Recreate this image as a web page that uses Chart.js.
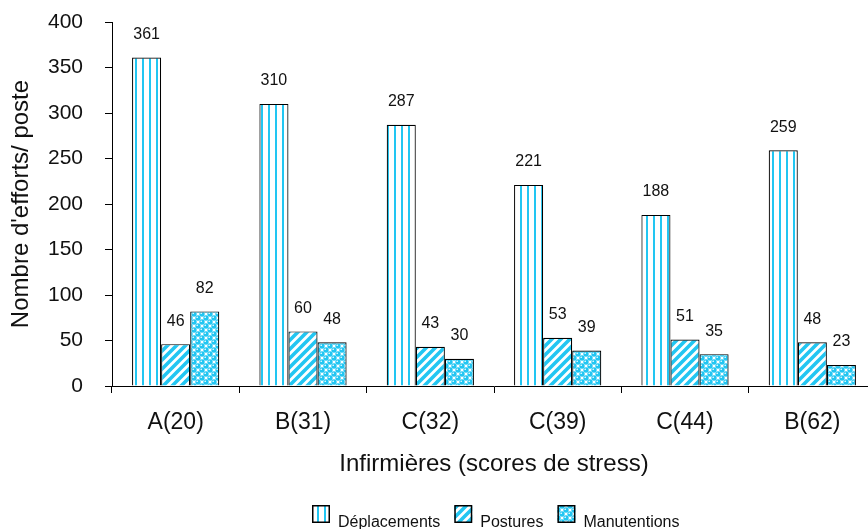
<!DOCTYPE html>
<html>
<head>
<meta charset="utf-8">
<script src="https://cdn.jsdelivr.net/npm/chart.js@4/dist/chart.umd.min.js"></script>
<style>
  html, body { margin: 0; padding: 0; background: #ffffff; overflow: hidden; }
  #wrap { width: 876px; height: 529px; }
</style>
</head>
<body>
<div id="wrap"><canvas id="chart" width="876" height="529"></canvas></div>
<script>
// Efforts per post for each nurse (stress score in brackets)
const categories = ['A(20)', 'B(31)', 'C(32)', 'C(39)', 'C(44)', 'B(62)'];
const seriesNames = ['Déplacements', 'Postures', 'Manutentions'];
const deplacements = [361, 310, 287, 221, 188, 259];
const postures = [46, 60, 43, 53, 51, 48];
const manutentions = [82, 48, 30, 39, 35, 23];
const yTicks = [0, 50, 100, 150, 200, 250, 300, 350, 400];

const CYAN = '#22c6f2';
const FONT = '"Liberation Sans", Arial, sans-serif';
const INK = '#111111';

function tile(w, h, paint) {
  const c = document.createElement('canvas');
  c.width = w; c.height = h;
  const g = c.getContext('2d');
  g.fillStyle = '#ffffff';
  g.fillRect(0, 0, w, h);
  paint(g, w, h);
  return document.getElementById('chart').getContext('2d').createPattern(c, 'repeat');
}

// vertical stripes
const stripes = tile(7, 4, (g) => {
  g.fillStyle = CYAN;
  g.fillRect(2, 0, 2, 4);
});

// diagonal hatching
const hatch = tile(9, 9, (g, w, h) => {
  g.strokeStyle = CYAN;
  g.lineWidth = 3.6;
  g.lineCap = 'square';
  for (let k = -1; k <= 1; k++) {
    g.beginPath();
    g.moveTo(k * w, h);
    g.lineTo(k * w + w, 0);
    g.stroke();
  }
});

// bubbles
const bubbles = tile(8, 8, (g) => {
  const spots = [[2, 2], [6, 6], [10, 2], [-2, 6], [2, 10], [6, -2], [10, 10], [-2, -2], [-2, 10], [10, -2]];
  g.fillStyle = CYAN;
  spots.forEach(([x, y]) => { g.beginPath(); g.arc(x, y, 2.7, 0, Math.PI * 2); g.fill(); });
  g.fillStyle = '#ffffff';
  spots.forEach(([x, y]) => { g.beginPath(); g.arc(x - 0.8, y - 0.8, 0.8, 0, Math.PI * 2); g.fill(); });
});

const fills = [stripes, hatch, bubbles];
const values = [deplacements, postures, manutentions];

// value printed above every bar
const valueLabels = {
  id: 'valueLabels',
  afterDatasetsDraw(chart) {
    const ctx = chart.ctx;
    ctx.save();
    ctx.font = '16px ' + FONT;
    ctx.fillStyle = INK;
    ctx.textAlign = 'center';
    ctx.textBaseline = 'middle';
    chart.data.datasets.forEach((ds, i) => {
      chart.getDatasetMeta(i).data.forEach((bar, j) => {
        ctx.fillText(String(ds.data[j]), bar.x, bar.y - 23);
      });
    });
    ctx.restore();
  }
};

// legend row under the axis title
const legendRow = {
  id: 'legendRow',
  afterDraw(chart) {
    const ctx = chart.ctx;
    ctx.save();
    ctx.font = '16px ' + FONT;
    ctx.textBaseline = 'alphabetic';
    let x = 312;
    const boxTop = 505, box = 18, baseline = 527;
    chart.data.datasets.forEach((ds) => {
      ctx.fillStyle = ds.backgroundColor;
      ctx.fillRect(x, boxTop, box, box);
      ctx.strokeStyle = '#000';
      ctx.lineWidth = 1.5;
      ctx.strokeRect(x + 0.75, boxTop + 0.75, box - 1.5, box - 1.5);
      ctx.fillStyle = INK;
      ctx.fillText(ds.label, x + box + 8, baseline);
      x += box + 8 + ctx.measureText(ds.label).width + 14;
    });
    ctx.restore();
  }
};

new Chart(document.getElementById('chart'), {
  type: 'bar',
  data: {
    labels: categories,
    datasets: seriesNames.map((name, i) => ({
      label: name,
      data: values[i],
      backgroundColor: fills[i],
      borderColor: '#000000',
      borderWidth: 1.2,
      categoryPercentage: 0.685,
      barPercentage: 1
    }))
  },
  options: {
    responsive: false,
    animation: false,
    devicePixelRatio: 1,
    layout: { padding: { top: 22, right: 0, bottom: 0, left: 0 } },
    plugins: {
      legend: { display: false },
      tooltip: { enabled: false }
    },
    scales: {
      x: {
        afterFit(scale) { scale.height = 143; },
        border: { display: true, color: '#000', width: 1 },
        grid: { display: true, drawOnChartArea: false, drawTicks: true, tickLength: 7, color: '#000', offset: true },
        ticks: { color: INK, font: { family: FONT, size: 23 }, padding: 16 },
        title: { display: true, text: 'Infirmières (scores de stress)', color: INK, font: { family: FONT, size: 24 }, padding: { top: 0, bottom: 50 } }
      },
      y: {
        min: 0,
        max: 400,
        afterFit(scale) {
          scale.width = 112;
          scale.paddingTop = 0;
          scale.paddingBottom = 0;
        },
        afterBuildTicks(scale) { scale.ticks = yTicks.map(v => ({ value: v })); },
        border: { display: true, color: '#000', width: 1 },
        grid: { display: true, drawOnChartArea: false, drawTicks: true, tickLength: 7, color: '#000' },
        ticks: { color: INK, font: { family: FONT, size: 21 }, padding: 22 },
        title: { display: true, text: "Nombre d'efforts/ poste", color: INK, font: { family: FONT, size: 24 }, padding: { top: 7, bottom: 0 } }
      }
    }
  },
  plugins: [valueLabels, legendRow]
});
</script>
</body>
</html>
